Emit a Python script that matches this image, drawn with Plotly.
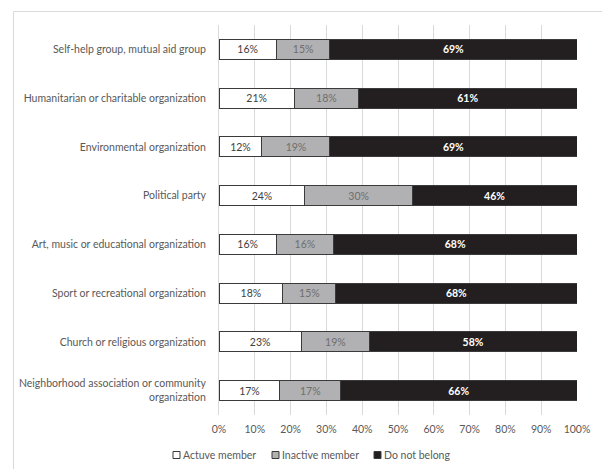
import plotly.graph_objects as go

categories = [
    "Self-help group, mutual aid group",
    "Humanitarian or charitable organization",
    "Environmental organization",
    "Political party",
    "Art, music or educational organization",
    "Sport or recreational organization",
    "Church or religious organization",
    "Neighborhood association or community<br>organization",
]
active = [16, 21, 12, 24, 16, 18, 23, 17]
inactive = [15, 18, 19, 30, 16, 15, 19, 17]
not_belong = [69, 61, 69, 46, 68, 68, 58, 66]
tick_vals = [0, 10, 20, 30, 40, 50, 60, 70, 80, 90, 100]
tick_text = [f"{v}%" for v in tick_vals]

FONT = "Lato, 'Open Sans', sans-serif"
W, H = 602, 469
L, R, T, B = 219, 25, 25, 54
PW, PH = W - L - R, H - T - B


def px(x):
    return (x - L) / PW


def py(y):
    return (H - B - y) / PH


series = [
    ("Actuve member", active, "#ffffff", "#404040", "normal", 173),
    ("Inactive member", inactive, "#b1b1b3", "#6e6e6e", "normal", 272),
    ("Do not belong", not_belong, "#231f20", "#ffffff", "bold", 374),
]

fig = go.Figure()
for name, vals, color, tcolor, weight, _ in series:
    fig.add_trace(go.Bar(
        name=name,
        y=categories,
        x=vals,
        orientation="h",
        marker=dict(color=color, line=dict(color="#3a3a3a", width=1)),
        text=[f"{v}%" for v in vals],
        textposition="inside",
        insidetextanchor="middle",
        textangle=0,
        constraintext="none",
        insidetextfont=dict(family=FONT, size=10.5, color=tcolor, weight=weight),
        hoverinfo="skip",
        showlegend=False,
    ))

fig.update_layout(
    barmode="stack",
    barnorm="percent",
    bargap=0.59,
    width=W,
    height=H,
    margin=dict(l=L, r=R, t=T, b=B),
    paper_bgcolor="white",
    plot_bgcolor="white",
    font=dict(family=FONT, size=10.5, color="#595959"),
    xaxis=dict(
        range=[0, 100],
        tickvals=tick_vals,
        ticktext=tick_text,
        showgrid=True,
        gridcolor="#d9d9d9",
        gridwidth=1,
        zeroline=False,
        showline=False,
        ticks="",
        ticklabelstandoff=6,
        tickfont=dict(size=10.5, color="#595959"),
        fixedrange=True,
    ),
    yaxis=dict(
        autorange="reversed",
        showgrid=False,
        ticks="",
        ticklabelstandoff=10,
        showline=True,
        linecolor="#d9d9d9",
        linewidth=1,
        tickfont=dict(size=10.5, color="#595959"),
        fixedrange=True,
    ),
    showlegend=False,
)

# legend: small outlined squares followed by the series names
for name, _, color, _, _, x0 in series:
    fig.add_shape(type="rect", xref="paper", yref="paper",
                  x0=px(x0), x1=px(x0 + 7), y0=py(451.5), y1=py(458.5),
                  fillcolor=color, line=dict(color="#3a3a3a", width=1))
    fig.add_annotation(xref="paper", yref="paper", x=px(x0 + 8), y=py(455),
                       xanchor="left", yanchor="middle", showarrow=False,
                       text=name, font=dict(size=10.5, color="#595959"))

# light frame along the top and left of the chart area
fig.add_shape(type="line", xref="paper", yref="paper",
              x0=px(13.5), x1=px(610), y0=py(11.5), y1=py(11.5),
              line=dict(color="#d9d9d9", width=1))
fig.add_shape(type="line", xref="paper", yref="paper",
              x0=px(13.5), x1=px(13.5), y0=py(11.5), y1=py(480),
              line=dict(color="#d9d9d9", width=1))

fig.write_html("out.html")
